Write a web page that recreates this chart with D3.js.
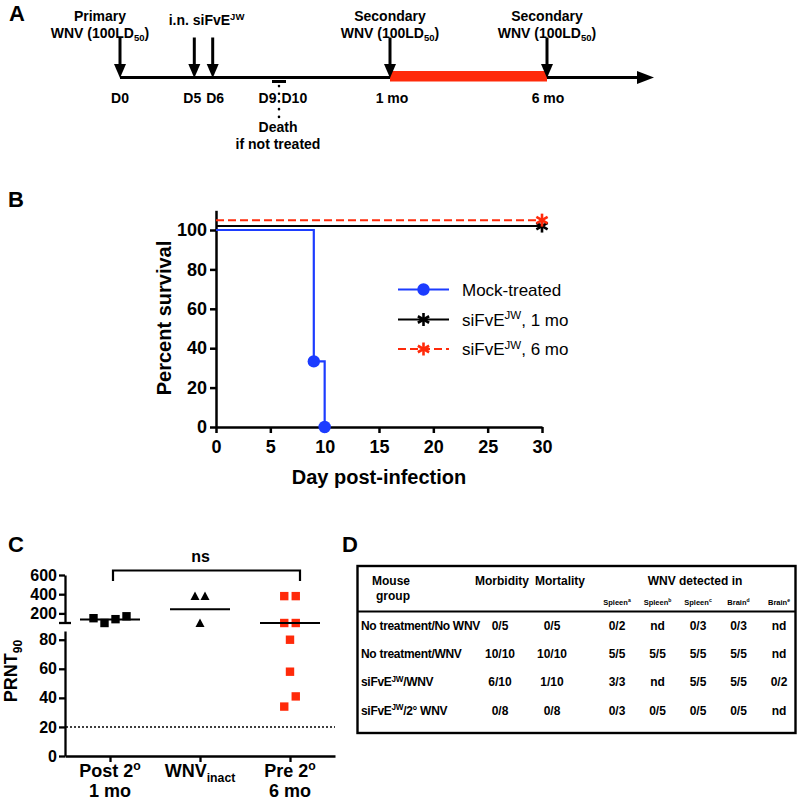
<!DOCTYPE html>
<html>
<head>
<meta charset="utf-8">
<script src="https://cdn.jsdelivr.net/npm/d3@7"></script>
<style>
body { margin: 0; background: #fff; }
svg { font-family: "Liberation Sans", Arial, Helvetica, sans-serif; font-weight: bold; }
</style>
</head>
<body>
<div id="fig"></div>
<script>
// ---- panel A : timeline
var arrowDays = [0, 5, 6, 30, 180]
var arrowLabels = ["D0", "D5", "D6", "1 mo", "6 mo"]
var deathDays = [9, 10]
var protectDays = [30, 180]

// ---- panel B : survival
var mockDays = [0, 9, 10]
var mockSurv = [100, 33.3, 0]
var mo1Days = [0, 30]
var mo1Surv = [102, 102]
var mo6Days = [0, 30]
var mo6Surv = [105, 105]
var survTicksX = [0, 5, 10, 15, 20, 25, 30]
var survTicksY = [0, 20, 40, 60, 80, 100]

// ---- panel C : PRNT90
var groupsC = ["post", "inact", "pre"]
var post2 = [150, 100, 140, 170]
var wnvInact = [380, 380, 100]
var pre2 = [380, 380, 100, 100, 80, 58, 34, 41]
var lowTicks = [0, 20, 40, 60, 80]
var highTicks = [200, 400, 600]
var detectLimit = 20

// ---- panel D : table
var rowGroups = ["No treatment/No WNV", "No treatment/WNV", "siFvE/WNV", "siFvE/2° WNV"]
var morbidity = ["0/5", "10/10", "6/10", "0/8"]
var mortality = ["0/5", "10/10", "1/10", "0/8"]
var spleenA = ["0/2", "5/5", "3/3", "0/3"]
var spleenB = ["nd", "5/5", "nd", "0/5"]
var spleenC = ["0/3", "5/5", "5/5", "0/5"]
var brainD = ["0/3", "5/5", "5/5", "0/5"]
var brainE = ["nd", "nd", "0/2", "nd"]
var organCols = [["Spleen", "a"], ["Spleen", "b"], ["Spleen", "c"], ["Brain", "d"], ["Brain", "e"]]

var red = "#ff2a0a"
var blue = "#1c3cff"

var svg = d3.select("#fig").append("svg").attr("width", 800).attr("height", 802)
svg.append("rect").attr("width", 800).attr("height", 802).attr("fill", "#fff")

// text with sub/superscripts
function rich(sel, parts, size) {
    var shift = 0
    parts.forEach(function(p) {
        var target = p[1] == "sup" ? -size * 0.38 : p[1] == "sub" ? size * 0.28 : 0
        var t = sel.append("tspan").text(p[0]).attr("dy", target - shift)
        if (p[1]) t.attr("font-size", size * 0.68)
        shift = target
    })
}

function panelLetter(txt, x, y) {
    svg.append("text").attr("x", x).attr("y", y).attr("font-size", 22).text(txt)
}
panelLetter("A", 9, 21)
panelLetter("B", 8, 207)
panelLetter("C", 8, 552)
panelLetter("D", 342, 552)

// =============== A ===============
addTimeline()

function addTimeline() {
    var xA = d3.scaleLinear()
        .domain([0, 5, 6, 9, 10, 30, 180, 235])
        .range([120, 194.3, 212.7, 272, 286, 390, 547, 654])
    var g = svg.append("g")
    var ly = 77.5

    g.append("line")
        .attr("x1", xA(0)).attr("x2", xA(235) - 10)
        .attr("y1", ly).attr("y2", ly)
        .attr("stroke", "#000").attr("stroke-width", 3)
    g.append("path")
        .attr("d", "M" + xA(235) + "," + ly + "L" + (xA(235) - 17) + "," + (ly - 6.5) + "L" + (xA(235) - 17) + "," + (ly + 6.5) + "Z")
        .attr("fill", "#000")

    g.append("rect")
        .attr("x", xA(protectDays[0])).attr("width", xA(protectDays[1]) - xA(protectDays[0]))
        .attr("y", 71).attr("height", 10.5)
        .attr("fill", red)

    var arrows = g.selectAll(".arr").data(arrowDays).enter().append("g")
    arrows.append("line")
        .attr("x1", function(d) { return xA(d) }).attr("x2", function(d) { return xA(d) })
        .attr("y1", 37.5).attr("y2", 66)
        .attr("stroke", "#000").attr("stroke-width", 3)
    arrows.append("path")
        .attr("d", function(d) { var x = xA(d); return "M" + (x - 6) + ",64L" + (x + 6) + ",64L" + x + ",78Z" })
        .attr("fill", "#000")

    // labels under the arrows, D5/D6 pushed apart a little
    var nudge = [0, -2, 2.5, 2, 1]
    g.selectAll(".dl").data(arrowDays).enter().append("text")
        .attr("x", function(d, i) { return xA(d) + nudge[i] })
        .attr("y", 103)
        .attr("text-anchor", "middle")
        .attr("font-size", 14)
        .text(function(d, i) { return arrowLabels[i] })

    // death window
    var mid = (xA(deathDays[0]) + xA(deathDays[1])) / 2
    g.append("line")
        .attr("x1", xA(deathDays[0])).attr("x2", xA(deathDays[1]))
        .attr("y1", 81.5).attr("y2", 81.5)
        .attr("stroke", "#000").attr("stroke-width", 3)
    g.append("line")
        .attr("x1", mid).attr("x2", mid).attr("y1", 86).attr("y2", 118)
        .attr("stroke", "#000").attr("stroke-width", 2.6)
        .attr("stroke-linecap", "round").attr("stroke-dasharray", "0.1,7.6")
    g.append("text").attr("x", mid - 2.5).attr("y", 103).attr("text-anchor", "end")
        .attr("font-size", 14).text("D" + deathDays[0])
    g.append("text").attr("x", mid + 2.5).attr("y", 103)
        .attr("font-size", 14).text("D" + deathDays[1])
    g.append("text").attr("x", mid - 1).attr("y", 132).attr("text-anchor", "middle")
        .attr("font-size", 14).text("Death")
    g.append("text").attr("x", mid - 1).attr("y", 148.5).attr("text-anchor", "middle")
        .attr("font-size", 14).text("if not treated")

    // notes above arrows
    function dose(x) {
        var t = g.append("text").attr("x", x).attr("y", 37.5).attr("text-anchor", "middle").attr("font-size", 14)
        rich(t, [["WNV (100LD"], ["50", "sub"], [")"]], 14)
    }
    g.append("text").attr("x", xA(0) - 20).attr("y", 20.5).attr("text-anchor", "middle")
        .attr("font-size", 14).text("Primary")
    dose(xA(0) - 20)
    var t = g.append("text").attr("x", xA(5.5) + 3).attr("y", 25).attr("text-anchor", "middle").attr("font-size", 14)
    rich(t, [["i.n. siFvE"], ["JW", "sup"]], 14)
    protectDays.forEach(function(d) {
        g.append("text").attr("x", xA(d)).attr("y", 20.5).attr("text-anchor", "middle")
            .attr("font-size", 14).text("Secondary")
        dose(xA(d))
    })
}

// =============== B ===============
addSurvival()

function star(g, x, y, r, color) {
    [0, 60, 120].forEach(function(a) {
        var dx = r * Math.sin(a * Math.PI / 180), dy = r * Math.cos(a * Math.PI / 180)
        g.append("line")
            .attr("x1", x - dx).attr("x2", x + dx).attr("y1", y - dy).attr("y2", y + dy)
            .attr("stroke", color).attr("stroke-width", 2.6)
    })
}

function addSurvival() {
    var xB = d3.scaleLinear().domain([0, 30]).range([216, 542])
    var yB = d3.scaleLinear().domain([0, 110]).range([427, 210.3])
    var g = svg.append("g")

    var ax = g.append("g").attr("transform", "translate(0,427)")
        .call(d3.axisBottom(xB).tickValues(survTicksX).tickSize(6).tickSizeOuter(0).tickPadding(7))
    var ay = g.append("g").attr("transform", "translate(216,0)")
        .call(d3.axisLeft(yB).tickValues(survTicksY).tickSize(6).tickSizeOuter(0).tickPadding(3))
    ;[ax, ay].forEach(function(a) {
        a.selectAll("path,line").attr("stroke", "#000").attr("stroke-width", 2.5)
        a.selectAll("text").attr("font-size", 18).attr("font-weight", "bold").attr("fill", "#000")
            .attr("font-family", "Liberation Sans, Arial, sans-serif")
    })

    g.append("text").attr("x", 379).attr("y", 484).attr("text-anchor", "middle")
        .attr("font-size", 20).text("Day post-infection")
    g.append("text").attr("transform", "translate(171,318) rotate(-90)").attr("text-anchor", "middle")
        .attr("font-size", 20).text("Percent survival")

    var line = d3.line().x(function(d) { return xB(d[0]) }).y(function(d) { return yB(d[1]) }).curve(d3.curveStepAfter)

    g.append("path").datum(d3.zip(mo1Days, mo1Surv)).attr("d", line)
        .attr("fill", "none").attr("stroke", "#000").attr("stroke-width", 2)
    g.append("path").datum(d3.zip(mo6Days, mo6Surv)).attr("d", line)
        .attr("fill", "none").attr("stroke", red).attr("stroke-width", 2).attr("stroke-dasharray", "8,4")
    g.append("path").datum(d3.zip(mockDays, mockSurv)).attr("d", line)
        .attr("fill", "none").attr("stroke", blue).attr("stroke-width", 2.2)

    g.selectAll(".mk").data(d3.zip(mockDays, mockSurv).slice(1)).enter().append("circle")
        .attr("cx", function(d) { return xB(d[0]) })
        .attr("cy", function(d) { return yB(d[1]) })
        .attr("r", 6.2).attr("fill", blue)
    star(g, xB(mo1Days[1]), yB(mo1Surv[1]), 6.5, "#000")
    star(g, xB(mo6Days[1]), yB(mo6Surv[1]), 6.5, red)

    // legend
    var lg = g.append("g")
    var rowsY = [289.5, 319.5, 349]
    var names = [[["Mock-treated"]], [["siFvE"], ["JW", "sup"], [", 1 mo"]], [["siFvE"], ["JW", "sup"], [", 6 mo"]]]
    var cols = [blue, "#000", red]
    rowsY.forEach(function(y, i) {
        lg.append("line").attr("x1", 398).attr("x2", 449).attr("y1", y).attr("y2", y)
            .attr("stroke", cols[i]).attr("stroke-width", 2.2)
            .attr("stroke-dasharray", i == 2 ? "8,4" : null)
        if (i == 0) lg.append("circle").attr("cx", 423.5).attr("cy", y).attr("r", 6.2).attr("fill", blue)
        else star(lg, 423.5, y, 6.5, cols[i])
        var t = lg.append("text").attr("x", 462).attr("y", y + 6).attr("font-size", 17).attr("font-weight", "normal")
        rich(t, names[i], 17)
    })
}

// =============== C ===============
addPrnt()

function addPrnt() {
    var xC = d3.scalePoint().domain(groupsC).range([65, 335]).padding(0.5)
    var yLow = d3.scaleLinear().domain([0, 86]).range([756, 631])
    var yHigh = d3.scaleLinear().domain([100, 600]).range([623, 575])
    function yC(v) { return v < 90 ? yLow(v) : yHigh(v) }
    var g = svg.append("g")

    var a1 = g.append("g").attr("transform", "translate(65,0)")
        .call(d3.axisLeft(yLow).tickValues(lowTicks).tickSize(6).tickSizeOuter(0).tickPadding(2))
    var a2 = g.append("g").attr("transform", "translate(65,0)")
        .call(d3.axisLeft(yHigh).tickValues(highTicks).tickSize(6).tickSizeOuter(0).tickPadding(2))
    var a3 = g.append("g").attr("transform", "translate(0,756)")
        .call(d3.axisBottom(xC).tickSize(6).tickSizeOuter(0).tickFormat(""))
    ;[a1, a2, a3].forEach(function(a) {
        a.selectAll("path,line").attr("stroke", "#000").attr("stroke-width", 2.3)
        a.selectAll("text").attr("font-size", 16).attr("font-weight", "bold").attr("fill", "#000")
            .attr("font-family", "Liberation Sans, Arial, sans-serif")
    })
    // axis break mark
    g.append("line").attr("x1", 59).attr("x2", 71).attr("y1", yHigh(100)).attr("y2", yHigh(100))
        .attr("stroke", "#000").attr("stroke-width", 2.3)

    // limit of detection
    g.append("line").attr("x1", 66).attr("x2", 335).attr("y1", yLow(detectLimit)).attr("y2", yLow(detectLimit))
        .attr("stroke", "#000").attr("stroke-width", 1.5).attr("stroke-dasharray", "2,2")

    // category labels
    var lab1 = [[["Post 2"], ["o", "sup"]], [["WNV"], ["inact", "sub"]], [["Pre 2"], ["o", "sup"]]]
    var lab2 = ["1 mo", "", "6 mo"]
    groupsC.forEach(function(c, i) {
        var t = g.append("text").attr("x", xC(c)).attr("y", 777).attr("text-anchor", "middle").attr("font-size", 18)
        rich(t, lab1[i], 18)
        g.append("text").attr("x", xC(c)).attr("y", 797).attr("text-anchor", "middle").attr("font-size", 18).text(lab2[i])
    })
    var yt = g.append("text").attr("transform", "translate(17,671) rotate(-90)").attr("text-anchor", "middle").attr("font-size", 18)
    rich(yt, [["PRNT"], ["90", "sub"]], 18)

    // beeswarm offsets
    function swarm(vals, step) {
        var idx = d3.range(vals.length).sort(function(a, b) { return yC(vals[a]) - yC(vals[b]) })
        var off = new Array(vals.length), bins = []
        idx.forEach(function(i) {
            var last = bins[bins.length - 1]
            if (last && Math.abs(yC(vals[i]) - yC(vals[last[0]])) < 11) last.push(i)
            else bins.push([i])
        })
        bins.forEach(function(b) {
            b.sort(d3.ascending)
            b.forEach(function(i, k) { off[i] = (k - (b.length - 1) / 2) * step })
        })
        return off
    }

    var sets = [post2, wnvInact, pre2]
    var steps = [11, 10, 11.5]
    sets.forEach(function(vals, gi) {
        var cx = xC(groupsC[gi])
        var off = swarm(vals, steps[gi])
        var sel = g.selectAll(".p" + gi).data(vals).enter()
        if (gi == 1) {
            sel.append("path")
                .attr("d", function(d, i) {
                    var x = cx + off[i], y = yC(d)
                    return "M" + (x - 4.5) + "," + (y + 4) + "L" + (x + 4.5) + "," + (y + 4) + "L" + x + "," + (y - 4.5) + "Z"
                })
                .attr("fill", "#000")
        } else {
            sel.append("rect")
                .attr("x", function(d, i) { return cx + off[i] - 4.2 })
                .attr("y", function(d) { return yC(d) - 4.2 })
                .attr("width", 8.4).attr("height", 8.4)
                .attr("fill", gi == 0 ? "#000" : red)
        }
        var gm = Math.exp(d3.mean(vals, function(v) { return Math.log(v) }))
        g.append("line").attr("x1", cx - 30).attr("x2", cx + 30).attr("y1", yC(gm)).attr("y2", yC(gm))
            .attr("stroke", "#000").attr("stroke-width", 2)
    })

    // significance bracket
    var bx1 = xC(groupsC[0]) + 3, bx2 = xC(groupsC[2]) + 10
    g.append("path").attr("d", "M" + bx1 + ",581V570.5H" + bx2 + "V581")
        .attr("fill", "none").attr("stroke", "#000").attr("stroke-width", 2.2)
    g.append("text").attr("x", (bx1 + bx2) / 2 - 6).attr("y", 562).attr("text-anchor", "middle")
        .attr("font-size", 16).text("ns")
}

// =============== D ===============
addTable()

function addTable() {
    var g = svg.append("g")
    g.append("rect").attr("x", 357.5).attr("y", 566).attr("width", 438).attr("height", 167)
        .attr("fill", "none").attr("stroke", "#000").attr("stroke-width", 2.4)
    g.append("line").attr("x1", 357.5).attr("x2", 795.5).attr("y1", 611.5).attr("y2", 611.5)
        .attr("stroke", "#000").attr("stroke-width", 2)

    var rowY = d3.scalePoint().domain(d3.range(rowGroups.length)).range([629.5, 714.5])
    var xMain = d3.scalePoint().domain(["morb", "mort"]).range([500, 552])
    var xOrgan = d3.scalePoint().domain(d3.range(organCols.length)).range([617, 779])
    var fs = 12

    // header
    g.append("text").attr("x", 391).attr("y", 585).attr("text-anchor", "middle").attr("font-size", fs).text("Mouse")
    g.append("text").attr("x", 393).attr("y", 599.5).attr("text-anchor", "middle").attr("font-size", fs).text("group")
    g.append("text").attr("x", 502).attr("y", 585).attr("text-anchor", "middle").attr("font-size", fs).text("Morbidity")
    g.append("text").attr("x", 560).attr("y", 585).attr("text-anchor", "middle").attr("font-size", fs).text("Mortality")
    g.append("text").attr("x", 695).attr("y", 585).attr("text-anchor", "middle").attr("font-size", fs).text("WNV detected in")
    organCols.forEach(function(c, i) {
        var t = g.append("text").attr("x", xOrgan(i)).attr("y", 605).attr("text-anchor", "middle").attr("font-size", 7.5)
        rich(t, [[c[0]], [c[1], "sup"]], 7.5)
    })

    var organData = [spleenA, spleenB, spleenC, brainD, brainE]
    rowGroups.forEach(function(r, i) {
        var y = rowY(i)
        var t = g.append("text").attr("x", 361).attr("y", y).attr("font-size", fs).attr("letter-spacing", -0.3)
        if (r.indexOf("siFvE") == 0) rich(t, [["siFvE"], ["JW", "sup"], [r.slice(5)]], fs)
        else t.text(r)
        g.append("text").attr("x", xMain("morb")).attr("y", y).attr("text-anchor", "middle").attr("font-size", fs).text(morbidity[i])
        g.append("text").attr("x", xMain("mort")).attr("y", y).attr("text-anchor", "middle").attr("font-size", fs).text(mortality[i])
        organData.forEach(function(col, j) {
            g.append("text").attr("x", xOrgan(j)).attr("y", y).attr("text-anchor", "middle").attr("font-size", fs).text(col[i])
        })
    })
}
</script>
</body>
</html>
